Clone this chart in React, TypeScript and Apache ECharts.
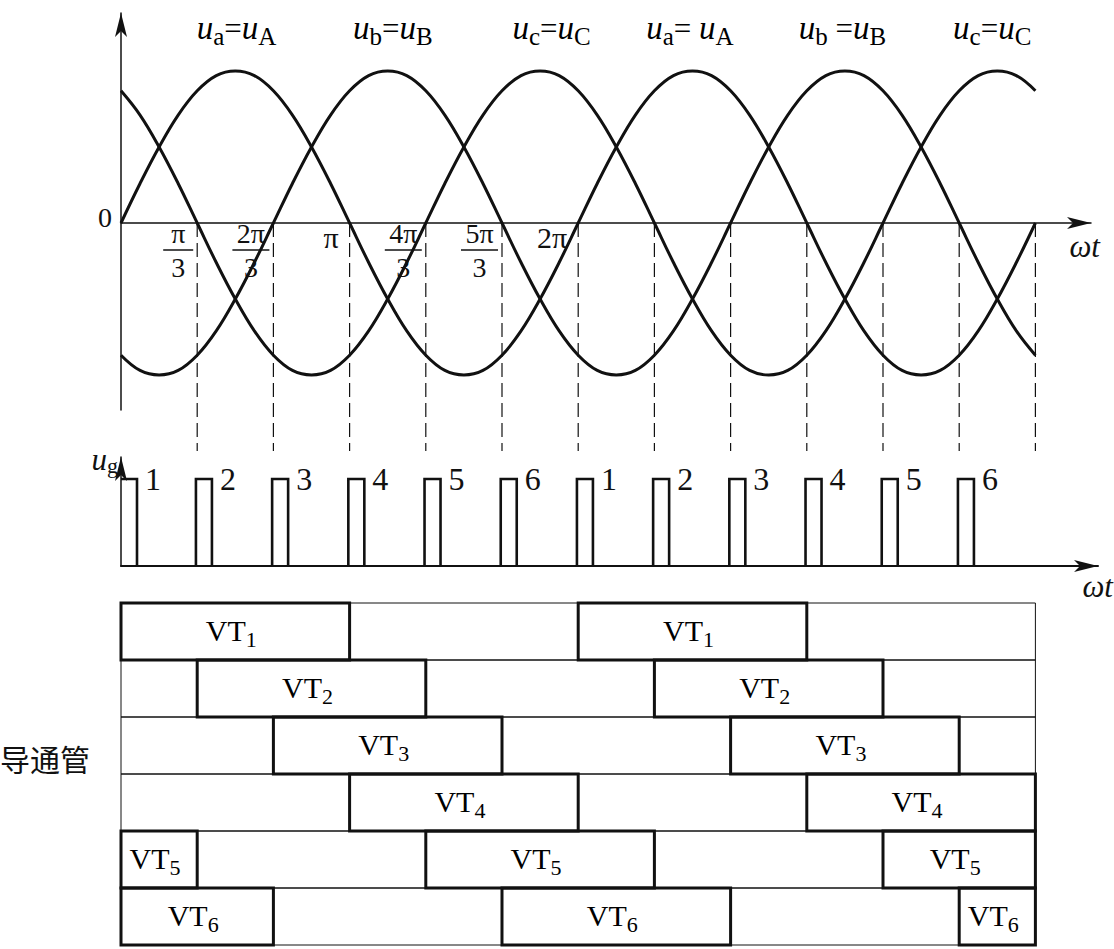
import React, { useEffect, useRef } from "react";
import * as echarts from "echarts";

// ---- data ----
const ANGLE_DEG = [0, 15, 30, 45, 60, 75, 90, 105, 120, 135, 150, 165, 180, 195, 210, 225, 240, 255, 270, 285, 300, 315, 330, 345,
  360, 375, 390, 405, 420, 435, 450, 465, 480, 495, 510, 525, 540, 555, 570, 585, 600, 615, 630, 645, 660, 675, 690, 705, 720];
const UA = [0, 0.26, 0.5, 0.71, 0.87, 0.97, 1, 0.97, 0.87, 0.71, 0.5, 0.26, 0, -0.26, -0.5, -0.71, -0.87, -0.97, -1, -0.97, -0.87, -0.71, -0.5, -0.26,
  0, 0.26, 0.5, 0.71, 0.87, 0.97, 1, 0.97, 0.87, 0.71, 0.5, 0.26, 0, -0.26, -0.5, -0.71, -0.87, -0.97, -1, -0.97, -0.87, -0.71, -0.5, -0.26, 0];
const UB = [-0.87, -0.97, -1, -0.97, -0.87, -0.71, -0.5, -0.26, 0, 0.26, 0.5, 0.71, 0.87, 0.97, 1, 0.97, 0.87, 0.71, 0.5, 0.26, 0, -0.26, -0.5, -0.71,
  -0.87, -0.97, -1, -0.97, -0.87, -0.71, -0.5, -0.26, 0, 0.26, 0.5, 0.71, 0.87, 0.97, 1, 0.97, 0.87, 0.71, 0.5, 0.26, 0, -0.26, -0.5, -0.71, -0.87];
const UC = [0.87, 0.71, 0.5, 0.26, 0, -0.26, -0.5, -0.71, -0.87, -0.97, -1, -0.97, -0.87, -0.71, -0.5, -0.26, 0, 0.26, 0.5, 0.71, 0.87, 0.97, 1, 0.97,
  0.87, 0.71, 0.5, 0.26, 0, -0.26, -0.5, -0.71, -0.87, -0.97, -1, -0.97, -0.87, -0.71, -0.5, -0.26, 0, 0.26, 0.5, 0.71, 0.87, 0.97, 1, 0.97, 0.87];

const LABEL_DEG = [91, 214, 339, 448, 568, 686];
const PEAK_SUB_LOWER = ["a", "b", "c", "a", "b", "c"];
const PEAK_SUB_UPPER = ["A", "B", "C", "A", "B", "C"];
const PEAK_EQ = ["=", "=", "=", "= ", " =", "="];

const MARK_DEG = [60, 120, 180, 240, 300, 360, 420, 480, 540, 600, 660, 720];
const TICK_DEG = [60, 120, 180, 240, 300, 360];
const TICK_NUM = ["π", "2π", "π", "4π", "5π", "2π"];
const TICK_DEN = ["3", "3", "", "3", "3", ""];

const PULSE_START = [0, 59, 119, 179, 239, 299, 359, 419, 479, 539, 599, 659];
const PULSE_WIDTH = 12.6;
const PULSE_LABEL = ["1", "2", "3", "4", "5", "6", "1", "2", "3", "4", "5", "6"];

const VT_ROWS = ["1", "2", "3", "4", "5", "6"];
const VT_INTERVALS = [
  [[0, 180], [360, 540]],
  [[60, 240], [420, 600]],
  [[120, 300], [480, 660]],
  [[180, 360], [540, 720]],
  [[0, 60], [240, 420], [600, 720]],
  [[0, 120], [300, 480], [660, 720]],
];

const serif = "'Liberation Serif', 'Times New Roman', serif";
const ink = "#111";

export default function App() {
  const ref = useRef<HTMLDivElement>(null);

  useEffect(() => {
    if (!ref.current) return;
    const chart = echarts.init(ref.current, null, { renderer: "svg" });

    const arrowLine = (w: number) => ({
      show: true,
      symbol: ["none", "arrow"],
      symbolSize: [9, 24],
      lineStyle: { color: ink, width: w },
    });

    const curve = (vals: number[]) => ({
      type: "line",
      xAxisIndex: 0,
      yAxisIndex: 0,
      data: ANGLE_DEG.map((d, i) => [d, vals[i]]),
      smooth: 0.4,
      showSymbol: false,
      lineStyle: { color: ink, width: 3 },
      z: 5,
    });

    const topRich = {
      u: { fontFamily: serif, fontStyle: "italic", fontSize: 33, color: ink },
      e: { fontFamily: serif, fontSize: 31, color: ink },
      s: { fontFamily: serif, fontSize: 25, color: ink, padding: [16, 0, 0, 0] },
    };
    const vtRich = {
      v: { fontFamily: serif, fontSize: 30, color: ink },
      s: { fontFamily: serif, fontSize: 22, color: ink, padding: [18, 0, 0, 0] },
    };

    const intervalData: number[][] = [];
    VT_INTERVALS.forEach((list, r) => list.forEach(([a, b]) => intervalData.push([a, r, b])));

    chart.setOption({
      animation: false,
      grid: [
        { left: 121, top: 13, width: 970, height: 397 },
        { left: 121, top: 457, width: 977, height: 109 },
        { left: 121, top: 603, width: 914.4, height: 342 },
      ],
      xAxis: [
        {
          gridIndex: 0, type: "value", min: 0, max: 970 / 1.27,
          axisLine: { ...arrowLine(1.5), onZero: true },
          axisTick: { show: false }, axisLabel: { show: false }, splitLine: { show: false },
          name: "ωt", nameLocation: "end", nameGap: 9,
          nameTextStyle: { align: "right", verticalAlign: "top", padding: [8, 0, 0, 0], fontFamily: serif, fontStyle: "italic", fontSize: 31, color: ink },
        },
        {
          gridIndex: 1, type: "value", min: 0, max: 977 / 1.27,
          axisLine: arrowLine(2),
          axisTick: { show: false }, axisLabel: { show: false }, splitLine: { show: false },
          name: "ωt", nameLocation: "end", nameGap: 15,
          nameTextStyle: { align: "right", verticalAlign: "top", padding: [5, 0, 0, 0], fontFamily: serif, fontStyle: "italic", fontSize: 31, color: ink },
        },
        { gridIndex: 2, type: "value", min: 0, max: 720, show: false },
      ],
      yAxis: [
        {
          gridIndex: 0, type: "value", min: -1.2303, max: 1.3816,
          axisLine: arrowLine(1.5),
          axisTick: { show: false }, axisLabel: { show: false }, splitLine: { show: false },
        },
        {
          gridIndex: 1, type: "value", min: 0, max: 1.2529,
          axisLine: arrowLine(1.5),
          axisTick: { show: false }, axisLabel: { show: false }, splitLine: { show: false },
          name: "{u|u}{s|g}", nameLocation: "end", nameGap: -2,
          nameTextStyle: {
            align: "right", verticalAlign: "middle", padding: [0, 3, 0, 0],
            rich: {
              u: { fontFamily: serif, fontStyle: "italic", fontSize: 31, color: ink },
              s: { fontFamily: serif, fontSize: 22, color: ink, padding: [12, 0, 0, 0] },
            },
          },
        },
        { gridIndex: 2, type: "value", min: 0, max: 6, inverse: true, show: false },
      ],
      graphic: [
        {
          type: "text", left: 0, top: 743,
          style: { text: "导通管", fontFamily: "'Noto Sans CJK SC', sans-serif", fontSize: 30, fill: ink },
        },
      ],
      series: [
        curve(UA),
        curve(UB),
        curve(UC),
        {
          type: "custom", xAxisIndex: 0, yAxisIndex: 0,
          data: MARK_DEG.map((d) => [d, 0]),
          encode: { x: 0, y: 1 },
          renderItem: (params: any, api: any) => {
            const p = api.coord([api.value(0), 0]);
            const q = api.coord([api.value(0), -1.5]);
            return {
              type: "line",
              shape: { x1: p[0], y1: p[1], x2: q[0], y2: q[1] },
              style: { stroke: ink, lineWidth: 1.2, lineDash: [14, 6] },
            };
          },
        },
        {
          type: "custom", xAxisIndex: 0, yAxisIndex: 0,
          data: TICK_DEG.map((d) => [d, 0]),
          encode: { x: 0, y: 1 },
          renderItem: (params: any, api: any) => {
            const i = params.dataIndex;
            const p = api.coord([api.value(0), 0]);
            const num = TICK_NUM[i];
            const den = TICK_DEN[i];
            const font = { fontFamily: serif, fontSize: 28, fill: ink };
            if (!den) {
              return {
                type: "text",
                style: { ...font, fontSize: 30, text: num, x: p[0] - 11, y: p[1] + 15, align: "right", verticalAlign: "middle" },
              };
            }
            const w = num.length > 1 ? 37 : 30;
            const right = p[0] - 4;
            const cx = right - w / 2;
            return {
              type: "group",
              children: [
                { type: "text", style: { ...font, text: num, x: cx, y: p[1] + 11, align: "center", verticalAlign: "middle" } },
                { type: "line", shape: { x1: right - w, y1: p[1] + 27, x2: right, y2: p[1] + 27 }, style: { stroke: ink, lineWidth: 1.5 } },
                { type: "text", style: { ...font, text: den, x: cx, y: p[1] + 45, align: "center", verticalAlign: "middle" } },
              ],
            };
          },
        },
        {
          type: "custom", xAxisIndex: 0, yAxisIndex: 0,
          data: LABEL_DEG.map((d) => [d, 1.28]),
          encode: { x: 0, y: 1 },
          renderItem: (params: any, api: any) => {
            const i = params.dataIndex;
            const p = api.coord([api.value(0), api.value(1)]);
            return {
              type: "text",
              style: {
                text: `{u|u}{s|${PEAK_SUB_LOWER[i]}}{e|${PEAK_EQ[i]}}{u|u}{s|${PEAK_SUB_UPPER[i]}}`,
                rich: topRich,
                x: p[0], y: p[1], align: "center", verticalAlign: "middle",
              },
            };
          },
        },
        {
          type: "custom", xAxisIndex: 0, yAxisIndex: 0,
          data: [[0, 0]],
          encode: { x: 0, y: 1 },
          renderItem: (params: any, api: any) => {
            const p = api.coord([api.value(0), api.value(1)]);
            return {
              type: "text",
              style: { text: "0", x: p[0] - 9, y: p[1] - 5, align: "right", verticalAlign: "middle", fontFamily: serif, fontSize: 28, fill: ink },
            };
          },
        },
        {
          type: "custom", xAxisIndex: 1, yAxisIndex: 1,
          data: PULSE_START.map((s) => [s, 1]),
          encode: { x: 0, y: 1 },
          renderItem: (params: any, api: any) => {
            const i = params.dataIndex;
            const s = api.value(0);
            const a = api.coord([s, 0]);
            const b = api.coord([s, 1]);
            const c = api.coord([s + PULSE_WIDTH, 1]);
            const d = api.coord([s + PULSE_WIDTH, 0]);
            const pts = s === 0 ? [b, c, d] : [a, b, c, d];
            return {
              type: "group",
              children: [
                { type: "polyline", shape: { points: pts }, style: { stroke: ink, lineWidth: 2.6, fill: "none" } },
                {
                  type: "text",
                  style: { text: PULSE_LABEL[i], x: c[0] + 8, y: c[1], align: "left", verticalAlign: "middle", fontFamily: serif, fontSize: 32, fill: ink },
                },
              ],
            };
          },
        },
        {
          type: "custom", xAxisIndex: 2, yAxisIndex: 2,
          data: VT_ROWS.map((_, r) => [0, r, 720]),
          encode: { x: [0, 2], y: 1 },
          renderItem: (params: any, api: any) => {
            const r = api.value(1);
            const p1 = api.coord([api.value(0), r]);
            const p2 = api.coord([api.value(2), r + 1]);
            return {
              type: "rect",
              shape: { x: p1[0], y: p1[1], width: p2[0] - p1[0], height: p2[1] - p1[1] },
              style: { stroke: ink, lineWidth: 1, fill: "none" },
            };
          },
        },
        {
          type: "custom", xAxisIndex: 2, yAxisIndex: 2,
          data: intervalData,
          encode: { x: [0, 2], y: 1 },
          renderItem: (params: any, api: any) => {
            const r = api.value(1);
            const p1 = api.coord([api.value(0), r]);
            const p2 = api.coord([api.value(2), r + 1]);
            return {
              type: "group",
              children: [
                {
                  type: "rect",
                  shape: { x: p1[0], y: p1[1], width: p2[0] - p1[0], height: p2[1] - p1[1] },
                  style: { stroke: ink, lineWidth: 3, fill: "none" },
                },
                {
                  type: "text",
                  style: {
                    text: `{v|VT}{s|${VT_ROWS[r]}}`,
                    rich: vtRich,
                    x: (p1[0] + p2[0]) / 2 - 4, y: (p1[1] + p2[1]) / 2 - 1,
                    align: "center", verticalAlign: "middle",
                  },
                },
              ],
            };
          },
        },
      ],
    });

    return () => chart.dispose();
  }, []);

  return <div ref={ref} style={{ position: "absolute", left: 0, top: 0, width: 1114, height: 949, background: "#fff" }} />;
}
